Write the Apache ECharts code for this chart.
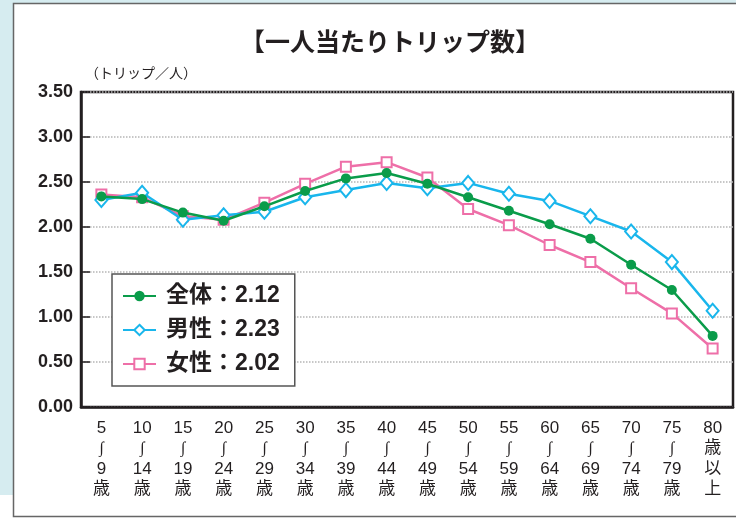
<!DOCTYPE html>
<html>
<head>
<meta charset="utf-8">
<script src="https://cdn.jsdelivr.net/npm/echarts@6/dist/echarts.min.js"></script>
<style>
html, body { margin: 0; padding: 0; background: #fff; }
#main { width: 736px; height: 518px; }
</style>
</head>
<body>
<div id="main"></div>
<script>
// 年齢階層
var ages = ['5\n{w|∫}\n9\n歳', '10\n{w|∫}\n14\n歳', '15\n{w|∫}\n19\n歳', '20\n{w|∫}\n24\n歳', '25\n{w|∫}\n29\n歳',
    '30\n{w|∫}\n34\n歳', '35\n{w|∫}\n39\n歳', '40\n{w|∫}\n44\n歳', '45\n{w|∫}\n49\n歳', '50\n{w|∫}\n54\n歳',
    '55\n{w|∫}\n59\n歳', '60\n{w|∫}\n64\n歳', '65\n{w|∫}\n69\n歳', '70\n{w|∫}\n74\n歳', '75\n{w|∫}\n79\n歳', '80\n歳\n以\n上'];
var seriesNames = ['全体', '男性', '女性'];
var averages = ['2.12', '2.23', '2.02'];
var allData = [2.34, 2.31, 2.16, 2.07, 2.23, 2.40, 2.54, 2.60, 2.48, 2.33, 2.18, 2.03, 1.87, 1.58, 1.30, 0.79];
var maleData = [2.30, 2.38, 2.08, 2.13, 2.17, 2.33, 2.41, 2.49, 2.43, 2.49, 2.37, 2.29, 2.12, 1.95, 1.61, 1.07];
var femaleData = [2.36, 2.33, 2.12, 2.08, 2.27, 2.48, 2.67, 2.72, 2.55, 2.20, 2.02, 1.80, 1.61, 1.32, 1.04, 0.65];

var numFont = "'Liberation Sans', 'Noto Sans CJK JP', sans-serif";
var textColor = '#231f20';

var chart = echarts.init(document.getElementById('main'));
var option = {
    backgroundColor: '#fff',
    textStyle: { fontFamily: numFont, color: textColor },
    graphic: [
        { type: 'rect', z: -10, shape: { x: 0, y: 0, width: 736, height: 495 }, style: { fill: '#d6ecf0' } },
        { type: 'rect', z: -9, shape: { x: 13.5, y: 3.5, width: 740, height: 513 }, style: { fill: '#fff', stroke: '#666', lineWidth: 1.5 } }
    ],
    title: {
        text: '【一人当たりトリップ数】',
        left: 385,
        textAlign: 'center',
        top: 24,
        textStyle: { fontFamily: "'Noto Sans CJK JP', sans-serif", fontSize: 25, fontWeight: 'bold', color: textColor }
    },
    legend: {
        orient: 'vertical',
        left: 112,
        top: 274,
        padding: [9, 15, 9, 10],
        itemGap: 8,
        itemWidth: 33,
        itemHeight: 13,
        backgroundColor: '#fff',
        borderColor: '#555',
        borderWidth: 1.5,
        borderRadius: 0,
        textStyle: { fontFamily: numFont, fontSize: 23, fontWeight: 'bold', color: textColor, lineHeight: 26, padding: [0, 0, 0, 5] },
        formatter: function (name) {
            return name + '：' + averages[seriesNames.indexOf(name)];
        },
        data: seriesNames
    },
    grid: { left: 81, right: 3, top: 92, bottom: 111, show: true, borderColor: textColor, borderWidth: 2.5 },
    xAxis: {
        type: 'category',
        data: ages,
        boundaryGap: true,
        axisLine: { lineStyle: { color: textColor, width: 2.5 } },
        axisTick: { inside: true, length: 7, interval: 0, lineStyle: { color: textColor, width: 1.5 } },
        axisLabel: {
            interval: 0, margin: 11, fontSize: 17, lineHeight: 20.5, color: textColor, fontFamily: numFont,
            rich: { w: { fontSize: 16, lineHeight: 20.5, fontFamily: "'Liberation Serif', 'DejaVu Sans', serif", color: textColor } }
        }
    },
    yAxis: {
        type: 'value',
        min: 0,
        max: 3.5,
        interval: 0.5,
        name: '（トリップ／人）',
        nameLocation: 'end',
        nameGap: 19,
        nameTextStyle: { align: 'left', verticalAlign: 'middle', padding: [0, 0, 0, 4], fontSize: 14, color: textColor, fontFamily: "'Noto Sans CJK JP', sans-serif" },
        axisLine: { show: true, lineStyle: { color: textColor, width: 2.5 } },
        axisTick: { show: true, inside: true, length: 9, lineStyle: { color: textColor, width: 1.5 } },
        axisLabel: { fontSize: 18, fontWeight: 'bold', color: textColor, margin: 8, formatter: function (v) { return v.toFixed(2); } },
        splitLine: { lineStyle: { color: '#b5b5b5', width: 1.5, type: 'dotted' } }
    },
    series: [{
        name: '全体',
        type: 'line',
        z: 4,
        data: allData,
        symbol: 'circle',
        symbolSize: 10,
        lineStyle: { color: '#0a9c4a', width: 2.5 },
        itemStyle: { color: '#0a9c4a' }
    }, {
        name: '男性',
        type: 'line',
        z: 3,
        data: maleData,
        symbol: 'emptyDiamond',
        symbolSize: [12, 14],
        lineStyle: { color: '#19b6ec', width: 2.5 },
        itemStyle: { color: '#19b6ec', borderWidth: 1.5 }
    }, {
        name: '女性',
        type: 'line',
        z: 2,
        data: femaleData,
        symbol: 'emptyRect',
        symbolSize: 10,
        lineStyle: { color: '#ee6fa8', width: 2.5 },
        itemStyle: { color: '#ee6fa8', borderWidth: 1.5 }
    }]
};
chart.setOption(option);
</script>
</body>
</html>
